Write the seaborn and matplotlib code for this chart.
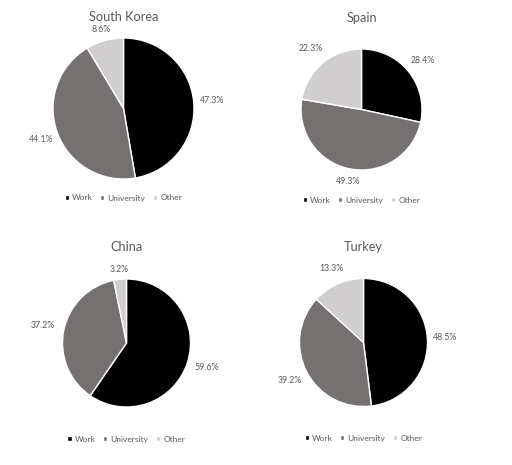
import matplotlib
matplotlib.use("Agg")
import matplotlib.pyplot as plt
import seaborn as sns

countries = ["South Korea", "Spain", "China", "Turkey"]
categories = ["Work", "University", "Other"]
work = [47.3, 28.4, 59.6, 48.5]
university = [44.1, 49.3, 37.2, 39.2]
other = [8.6, 22.3, 3.2, 13.3]

sns.set_theme(style="white")
plt.rcParams['font.family'] = ['Lato', 'DejaVu Sans']
colors = ["#000000", "#767171", "#D0CECE"]
txt = "#595959"

W, H = 512, 465
fig = plt.figure(figsize=(W / 100, H / 100), dpi=100)
fig.patch.set_facecolor("white")

# pixel layout: center x, center y (from top), radius, title y, legend y
layout = [
    (123.5, 108.5, 70.5, 17, 198),
    (361.5, 109.5, 60.5, 18, 200),
    (126.5, 343.0, 64.0, 247, 439),
    (363.5, 342.5, 64.0, 247, 438),
]
# label distances (in radii) for each wedge label
label_dist = [
    (1.26, 1.25, 1.17),
    (1.30, 1.21, 1.31),
    (1.31, 1.34, 1.15),
    (1.27, 1.30, 1.26),
]


def make_fmt(total):
    return lambda p: f"{p * total / 100:.1f}%"


for i, name in enumerate(countries):
    cx, cy, r, ty, ly = layout[i]
    ax = fig.add_axes([(cx - r) / W, (H - cy - r) / H, 2 * r / W, 2 * r / H])
    vals = [work[i], university[i], other[i]]
    wedges, texts, autotexts = ax.pie(
        vals, colors=colors, startangle=90, counterclock=False,
        autopct=make_fmt(sum(vals)), pctdistance=1.0,
        wedgeprops=dict(edgecolor="white", linewidth=1.0),
        textprops=dict(color=txt, fontsize=6.3),
    )
    for t, d in zip(autotexts, label_dist[i]):
        x, y = t.get_position()
        t.set_position((x * d, y * d))
    ax.set_xlim(-1, 1)
    ax.set_ylim(-1, 1)
    fig.text(cx / W, 1 - ty / H, name, ha="center", va="center",
             fontsize=9.2, color=txt)
    ax.legend(wedges, categories, ncol=3, frameon=False, loc="center",
              bbox_to_anchor=(cx / W, 1 - ly / H),
              bbox_transform=fig.transFigure, fontsize=6.0,
              handlelength=0.5, handleheight=0.5, handletextpad=0.4,
              columnspacing=0.9, labelcolor=txt)

fig.savefig("out.png", dpi=100, facecolor="white")
